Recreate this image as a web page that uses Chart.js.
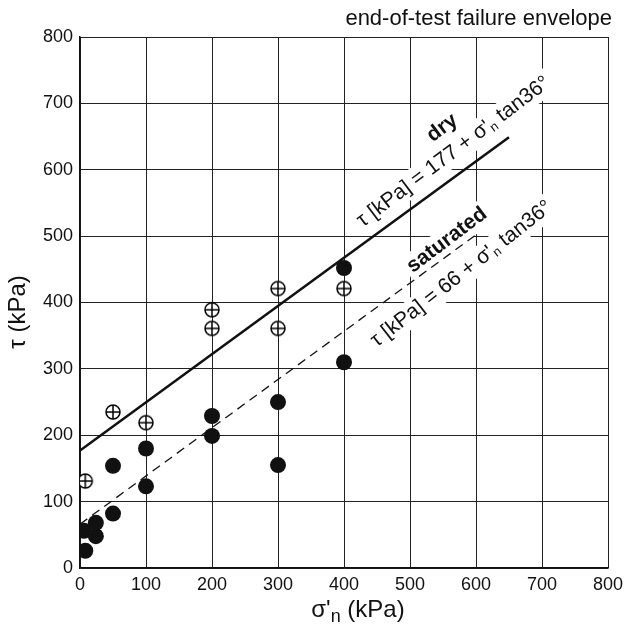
<!DOCTYPE html>
<html>
<head>
<meta charset="utf-8">
<script src="https://cdn.jsdelivr.net/npm/chart.js@4"></script>
<style>
  html, body { margin: 0; padding: 0; background: #fff; }
  #wrap { width: 630px; height: 628px; }
</style>
</head>
<body>
<div id="wrap"><canvas id="myChart" width="630" height="628"></canvas></div>
<script>
// shear tests: normal stress (kPa) vs shear stress (kPa)
const drySigma = [8, 50, 100, 200, 200, 300, 300, 400];
const dryTau   = [131, 235, 219, 361, 389, 361, 421, 421];
const satSigma = [8, 6, 24, 24, 50, 50, 100, 100, 200, 200, 300, 300, 400, 400];
const satTau   = [26, 56, 48, 68, 82, 154, 123, 180, 199, 229, 155, 250, 310, 452];

// failure envelopes (end points)
const dryEnvSigma = [0, 650];
const dryEnvTau   = [177, 649];
const satEnvSigma = [0, 600];
const satEnvTau   = [66, 502];

const axisTicks = [0, 100, 200, 300, 400, 500, 600, 700, 800];

const FONT = "'Liberation Sans', Arial, Helvetica, sans-serif";

function pts(xs, ys) {
  return xs.map((x, i) => ({x: x, y: ys[i]}));
}

// open circle with a plus inside
function crossedCircle(r) {
  const c = document.createElement('canvas');
  const s = Math.ceil(r * 2 + 4);
  c.width = s; c.height = s;
  const g = c.getContext('2d');
  const m = s / 2;
  g.fillStyle = '#fff';
  g.strokeStyle = '#000';
  g.lineWidth = 1.5;
  g.beginPath();
  g.arc(m, m, r, 0, Math.PI * 2);
  g.fill();
  g.stroke();
  g.beginPath();
  g.moveTo(m - r, m); g.lineTo(m + r, m);
  g.moveTo(m, m - r); g.lineTo(m, m + r);
  g.stroke();
  return c;
}
const openMarker = crossedCircle(7);

// rotated labels along the envelopes, with white boxes that break the grid
const labels = [
  {x: 549, y: 663, angle: -37, parts: [{t: 'dry', bold: true}]},
  {x: 566, y: 627, angle: -37, parts: [{t: "\u03c4 [kPa] = 177 + \u03c3'"}, {t: 'n', sub: true}, {t: ' tan36\u00b0'}]},
  {x: 556, y: 494, angle: -37, parts: [{t: 'saturated', bold: true}]},
  {x: 578, y: 443, angle: -38, parts: [{t: "\u03c4 [kPa] = 66 + \u03c3'"}, {t: 'n', sub: true}, {t: ' tan36\u00b0'}]}
];
const LABEL_SIZE = 21;

function partFont(p) {
  if (p.sub) return Math.round(LABEL_SIZE * 0.6) + 'px ' + FONT;
  return (p.bold ? 'bold ' : '') + LABEL_SIZE + 'px ' + FONT;
}

const labelPlugin = {
  id: 'envLabels',
  beforeDatasetsDraw(chart) {
    const ctx = chart.ctx;
    const xs = chart.scales.x, ys = chart.scales.y;
    labels.forEach(l => {
      const cx = xs.getPixelForValue(l.x);
      const cy = ys.getPixelForValue(l.y);
      let w = 0;
      l.parts.forEach(p => { ctx.font = partFont(p); p.w = ctx.measureText(p.t).width; w += p.w; });
      ctx.save();
      ctx.translate(cx, cy);
      ctx.rotate(l.angle * Math.PI / 180);
      ctx.fillStyle = '#fff';
      ctx.fillRect(-w / 2 - 4, -LABEL_SIZE * 0.62, w + 8, LABEL_SIZE * 1.24);
      ctx.fillStyle = '#111';
      ctx.textBaseline = 'middle';
      ctx.textAlign = 'left';
      let x = -w / 2;
      l.parts.forEach(p => {
        ctx.font = partFont(p);
        ctx.fillText(p.t, x, p.sub ? 5 : 0);
        x += p.w;
      });
      ctx.restore();
    });
  },
  afterDraw(chart) {
    const ctx = chart.ctx;
    ctx.save();
    ctx.fillStyle = '#111';
    // title
    ctx.font = '22px ' + FONT;
    ctx.textAlign = 'right';
    ctx.textBaseline = 'alphabetic';
    ctx.fillText('end-of-test failure envelope', 612, 25);
    // x-axis title with subscript
    const big = '24px ' + FONT, small = '18px ' + FONT;
    const a = "\u03c3'", b = 'n', c = ' (kPa)';
    ctx.font = big; const wa = ctx.measureText(a).width, wc = ctx.measureText(c).width;
    ctx.font = small; const wb = ctx.measureText(b).width;
    let x = 358 - (wa + wb + wc) / 2;
    ctx.textAlign = 'left';
    ctx.font = big; ctx.fillText(a, x, 617); x += wa;
    ctx.font = small; ctx.fillText(b, x, 622); x += wb;
    ctx.font = big; ctx.fillText(c, x, 617);
    // y-axis title
    ctx.translate(18, 312);
    ctx.rotate(-Math.PI / 2);
    ctx.textAlign = 'center';
    ctx.textBaseline = 'middle';
    ctx.font = '24px ' + FONT;
    ctx.fillText('\u03c4 (kPa)', 0, 0);
    ctx.restore();
  }
};

const gridOpts = {color: '#222', lineWidth: 1, drawTicks: false};
const borderOpts = {color: '#111', width: 1.5};

new Chart(document.getElementById('myChart').getContext('2d'), {
  type: 'scatter',
  data: {
    datasets: [{
      type: 'line',
      label: 'dry envelope',
      data: pts(dryEnvSigma, dryEnvTau),
      borderColor: '#111',
      borderWidth: 2.6,
      pointRadius: 0,
      fill: false
    }, {
      type: 'line',
      label: 'saturated envelope',
      data: pts(satEnvSigma, satEnvTau),
      borderColor: '#111',
      borderWidth: 1.3,
      borderDash: [9, 6],
      pointRadius: 0,
      fill: false
    }, {
      label: 'dry',
      data: pts(drySigma, dryTau),
      pointStyle: openMarker,
      pointRadius: 8
    }, {
      label: 'saturated',
      data: pts(satSigma, satTau),
      pointStyle: 'circle',
      pointRadius: 8,
      backgroundColor: '#111',
      borderColor: '#111',
      borderWidth: 0
    }]
  },
  plugins: [labelPlugin],
  options: {
    responsive: false,
    animation: false,
    layout: {padding: {top: 37, right: 22, bottom: 0, left: 0}},
    plugins: {
      legend: {display: false},
      tooltip: {enabled: false}
    },
    scales: {
      x: {
        type: 'linear',
        min: 0, max: 800,
        afterBuildTicks: s => { s.ticks = axisTicks.map(v => ({value: v})); },
        afterFit: s => { s.height = 60; },
        grid: gridOpts,
        border: borderOpts,
        ticks: {color: '#111', font: {family: FONT, size: 18}, padding: 6, maxRotation: 0}
      },
      y: {
        type: 'linear',
        min: 0, max: 800,
        afterBuildTicks: s => { s.ticks = axisTicks.map(v => ({value: v})); },
        afterFit: s => { s.width = 80; },
        grid: gridOpts,
        border: borderOpts,
        ticks: {color: '#111', font: {family: FONT, size: 18}, padding: 7}
      }
    }
  }
});
</script>
</body>
</html>
